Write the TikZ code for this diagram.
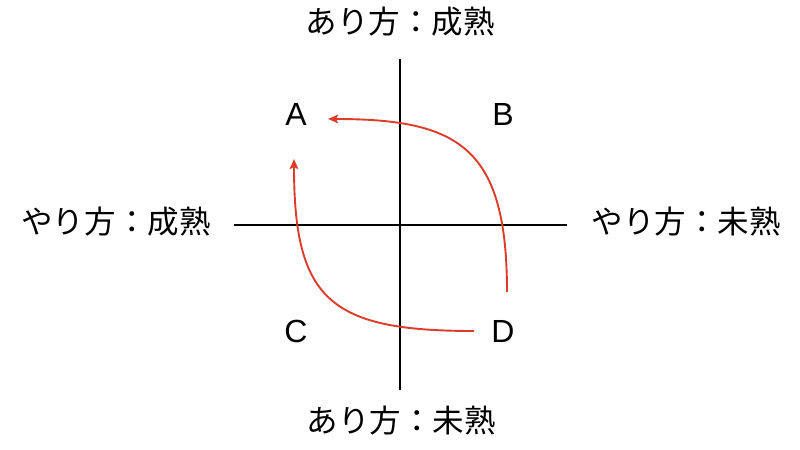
\documentclass[tikz,border=0pt]{standalone}
\usepackage{fontspec}
\setmainfont{Liberation Sans}
\newfontfamily\jpfont{Noto Sans CJK JP}
\usetikzlibrary{arrows.meta}
\definecolor{arrowred}{HTML}{DD3C2B}
\begin{document}
\begin{tikzpicture}[
        x=1bp, y=-1bp,
        axislabel/.style={
        font=\jpfont\fontsize{31.5bp}{36bp}\selectfont,
        inner sep=0pt,
        },
        quadrant/.style={
        font=\fontsize{32bp}{36bp}\selectfont,
        inner sep=0pt,
        },
        axis/.style={line width=1.6bp},
        move/.style={
        draw=arrowred,
        line width=1.9bp,
        -{Stealth[length=10bp,width=8.5bp,inset=2bp]},
        }
      ]
        \useasboundingbox (0, 0) rectangle (800, 450);

        \node[axislabel] (top) at (400, 22) {あり方：成熟};
        \node[axislabel] (bottom) at (401, 421) {あり方：未熟};
        \node[axislabel] (left) at (116, 222) {やり方：成熟};
        \node[axislabel] (right) at (686, 222) {やり方：未熟};

        \node[quadrant] (a) at (296, 114.5) {A};
        \node[quadrant] (b) at (503, 114.5) {B};
        \node[quadrant] (c) at (296, 331) {C};
        \node[quadrant] (d) at (503, 331) {D};

        \coordinate (n) at (400, 59);
        \coordinate (s) at (400, 390);
        \coordinate (w) at (234, 225);
        \coordinate (e) at (567, 225);
        \draw[axis] (n) -- (s);
        \draw[axis] (w) -- (e);

        \coordinate (d1) at (507, 292);
        \coordinate (a1) at (328, 119);
        \coordinate (d2) at (474, 331);
        \coordinate (a2) at (294, 159);
        \draw[move] (d1) .. controls (507, 148) and (460, 119) .. (a1);
        \draw[move] (d2) .. controls (330, 331) and (294, 300) .. (a2);
      \end{tikzpicture}
\end{document}
